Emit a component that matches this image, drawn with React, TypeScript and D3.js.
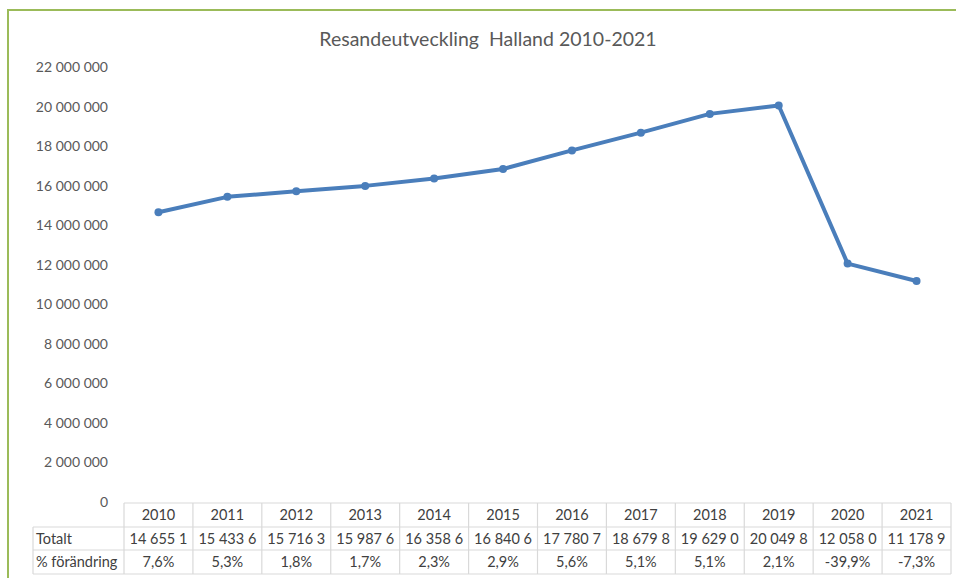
import { useEffect, useRef } from 'react';
import * as d3 from 'd3';

const years = ['2010', '2011', '2012', '2013', '2014', '2015', '2016', '2017', '2018', '2019', '2020', '2021'];
const totals = [14655100, 15433600, 15716300, 15987600, 16358600, 16840600, 17780700, 18679800, 19629000, 20049800, 12058000, 11178900];
// the table cells cut the numbers off, as in the original
const totalLabels = ['14 655 1', '15 433 6', '15 716 3', '15 987 6', '16 358 6', '16 840 6', '17 780 7', '18 679 8', '19 629 0', '20 049 8', '12 058 0', '11 178 9'];
const changes = ['7,6%', '5,3%', '1,8%', '1,7%', '2,3%', '2,9%', '5,6%', '5,1%', '5,1%', '2,1%', '-39,9%', '-7,3%'];
const yTicks = [0, 2e6, 4e6, 6e6, 8e6, 10e6, 12e6, 14e6, 16e6, 18e6, 20e6, 22e6];

const W = 956;
const H = 578;
const FONT = 'Lato, "Open Sans", sans-serif';

export default function App() {
  const ref = useRef<SVGSVGElement>(null);

  useEffect(() => {
    if (!ref.current) return;
    const svg = d3.select(ref.current);
    svg.selectAll('*').remove();

    const tableLeft = 33;
    const x = d3.scaleBand().domain(years).range([124, 951]);
    const y = d3.scaleLinear().domain([0, 22e6]).range([502, 67]);
    const rowTop = [503, 527, 550, 574];

    // chart frame
    svg.append('rect').attr('x', 8).attr('y', 10).attr('width', W + 10).attr('height', H + 10)
      .attr('fill', '#fff').attr('stroke', '#9bbb59').attr('stroke-width', 2);

    svg.append('text').attr('x', 488).attr('y', 46).attr('text-anchor', 'middle')
      .attr('font-family', FONT).attr('font-size', 19.5).attr('fill', '#595959')
      .style('white-space', 'pre')
      .text('Resandeutveckling  Halland 2010-2021');

    // y axis labels
    svg.append('g').selectAll('text').data(yTicks).enter().append('text')
      .attr('x', 108).attr('y', (d) => y(d) + 5).attr('text-anchor', 'end')
      .attr('font-family', FONT).attr('font-size', 14).attr('fill', '#595959')
      .text((d) => d3.format(',')(d).replace(/,/g, ' '));

    // data table
    const grid = svg.append('g').attr('stroke', '#d9d9d9').attr('stroke-width', 1.2);
    grid.append('line').attr('x1', 124).attr('x2', 951).attr('y1', rowTop[0]).attr('y2', rowTop[0]);
    rowTop.slice(1).forEach((ry) => {
      grid.append('line').attr('x1', tableLeft).attr('x2', 951).attr('y1', ry).attr('y2', ry);
    });
    grid.append('line').attr('x1', tableLeft).attr('x2', tableLeft).attr('y1', rowTop[1]).attr('y2', rowTop[3]);
    [...years.map((yr) => x(yr)!), 951].forEach((cx) => {
      grid.append('line').attr('x1', cx).attr('x2', cx).attr('y1', rowTop[0]).attr('y2', rowTop[3]);
    });

    const rows = [years, totalLabels, changes];
    const cells = svg.append('g').attr('font-family', FONT).attr('font-size', 14.5).attr('fill', '#404040')
      .attr('text-anchor', 'middle');
    rows.forEach((row, ri) => {
      cells.selectAll(`text.r${ri}`).data(row).enter().append('text').attr('class', `r${ri}`)
        .attr('x', (_, i) => x(years[i])! + x.bandwidth() / 2)
        .attr('y', (rowTop[ri] + rowTop[ri + 1]) / 2 + 5)
        .text((d) => d);
    });
    ['Totalt', '% förändring'].forEach((lbl, i) => {
      cells.append('text').attr('x', tableLeft + 3).attr('y', (rowTop[i + 1] + rowTop[i + 2]) / 2 + 5)
        .attr('text-anchor', 'start').text(lbl);
    });

    // series
    const cx = (i: number) => x(years[i])! + x.bandwidth() / 2;
    const line = d3.line<number>().x((_, i) => cx(i)).y((d) => y(d));
    svg.append('path').datum(totals).attr('d', line).attr('fill', 'none')
      .attr('stroke', '#4a7ebb').attr('stroke-width', 4).attr('stroke-linejoin', 'round');
    svg.append('g').selectAll('circle').data(totals).enter().append('circle')
      .attr('cx', (_, i) => cx(i)).attr('cy', (d) => y(d)).attr('r', 4).attr('fill', '#4a7ebb');
  }, []);

  return (
    <svg ref={ref} width={W} height={H}
      style={{ position: 'fixed', left: 0, top: 0, background: '#fff' }} />
  );
}
